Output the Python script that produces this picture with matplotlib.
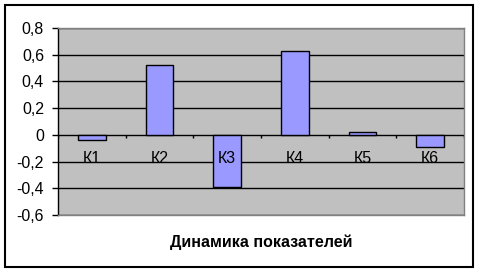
import matplotlib
matplotlib.use("Agg")
import matplotlib.pyplot as plt
from matplotlib.patches import Rectangle

categories = ["К1", "К2", "К3", "К4", "К5", "К6"]
values = [-0.04, 0.52, -0.39, 0.63, 0.02, -0.09]
yticks = [-0.6, -0.4, -0.2, 0, 0.2, 0.4, 0.6, 0.8]
ytick_labels = ["-0,6", "-0,4", "-0,2", "0", "0,2", "0,4", "0,6", "0,8"]
xlabel = "Динамика показателей"

plt.rcParams['font.family'] = ['Liberation Sans', 'DejaVu Sans']

W, H = 479, 273
fig = plt.figure(figsize=(W/100, H/100), dpi=100)
fig.patch.set_facecolor('white')
fig.add_artist(Rectangle((5/W, 1-267/H), (473-5)/W, (267-5)/H, transform=fig.transFigure,
                         fill=False, edgecolor='black', linewidth=1.5))

ax = fig.add_axes([58/W, 1-215/H, (464-58)/W, (215-28)/H])
ax.set_facecolor('#c0c0c0')
x = list(range(len(categories)))
ax.bar(x, values, width=0.41, color='#9999ff', edgecolor='black', linewidth=1, zorder=3)
ax.set_xlim(-0.5, len(categories)-0.5)
ax.set_ylim(-0.6, 0.8)
ax.set_yticks(yticks)
ax.set_yticklabels(ytick_labels, fontsize=11.5)
ax.set_xticks([])
for yv in yticks:
    ax.axhline(yv, color='black', linewidth=1, zorder=2)
# category boundary ticks on zero line
bounds = [i + 0.5 for i in range(-1, len(categories))]
ax.vlines(bounds, -0.022, 0, color='black', linewidth=1, zorder=4)
for xi, c in zip(x, categories):
    ax.text(xi, -0.175, c, ha='center', va='center', fontsize=11.5, zorder=5)
ax.tick_params(axis='y', direction='out', length=4, width=1, color='black', pad=6)
for s in ['top', 'right', 'bottom']:
    ax.spines[s].set_color('#808080')
    ax.spines[s].set_linewidth(1)
ax.spines['left'].set_color('black')
ax.spines['left'].set_linewidth(1)
fig.text((58+464)/2/W, 1-242/H, xlabel, ha='center', va='center', fontsize=11.5, fontweight='bold')

fig.savefig('out.png', dpi=100)
